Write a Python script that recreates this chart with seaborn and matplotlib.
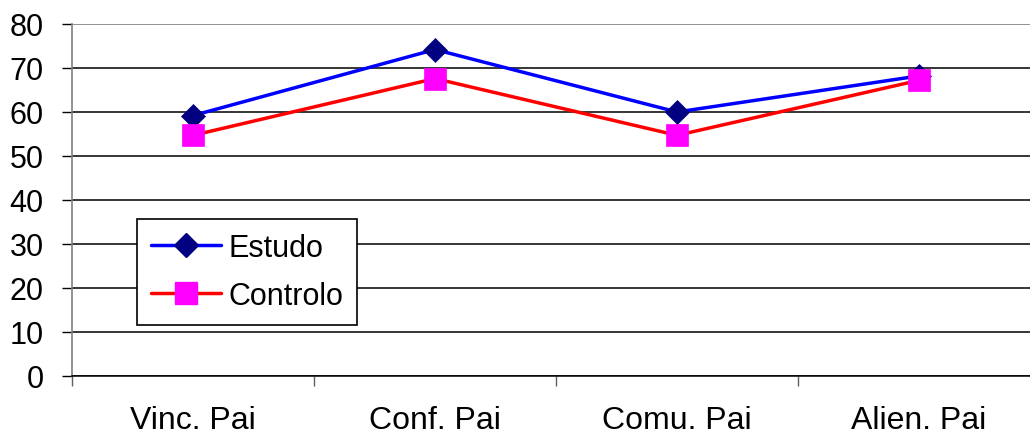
import matplotlib
matplotlib.use("Agg")
import matplotlib.pyplot as plt
from matplotlib.lines import Line2D
import seaborn as sns
import pandas as pd
import numpy as np

categories = ["Vinc. Pai", "Conf. Pai", "Comu. Pai", "Alien. Pai"]
estudo = [59.2, 74.2, 60.0, 68.2]
controlo = [54.7, 67.6, 54.7, 67.2]
yticks = [0, 10, 20, 30, 40, 50, 60, 70, 80]

sns.set_theme(style="white")
plt.rcParams["font.family"] = ["Liberation Sans", "DejaVu Sans"]
plt.rcParams["text.color"] = "black"
plt.rcParams["xtick.color"] = "black"
plt.rcParams["ytick.color"] = "black"
plt.rcParams["xtick.labelcolor"] = "black"
plt.rcParams["ytick.labelcolor"] = "black"

W, H = 1030, 439
fig = plt.figure(figsize=(W / 100, H / 100), dpi=100)
ax = fig.add_axes([72 / W, 1 - 377 / H, (1040 - 72) / W, (377 - 25) / H])

pos = np.arange(len(categories))
df = pd.DataFrame({"x": np.concatenate([pos, pos]),
                   "y": estudo + controlo,
                   "serie": ["Estudo"] * 4 + ["Controlo"] * 4})

D_MS, S_MS, LW = 12.5, 16, 2.5

sns.lineplot(data=df[df.serie == "Estudo"], x="x", y="y", ax=ax, color="#0000FF",
             lw=LW, marker="D", markersize=D_MS, markerfacecolor="#000080",
             markeredgecolor="#000080", markeredgewidth=0.5, legend=False, zorder=4)
sns.lineplot(data=df[df.serie == "Controlo"], x="x", y="y", ax=ax, color="#FF0000",
             lw=LW, marker="s", markersize=S_MS, markerfacecolor="#FF00FF",
             markeredgecolor="#FF00FF", markeredgewidth=0.5, legend=False, zorder=5)

ax.set_xlim(-0.5, 3.5)
ax.set_ylim(0, 80)
ax.set_yticks(yticks)
ax.set_yticklabels([str(v) for v in yticks], fontsize=22, color="black")
for v in yticks[:-1]:
    ax.axhline(v, color="black", lw=1.1, zorder=1)
ax.axhline(80, color="#808080", lw=1.2, zorder=1)

ax.set_xticks(np.arange(-0.5, 3.6, 1.0))
ax.set_xticklabels([])
ax.set_xticks(pos, minor=True)
ax.set_xticklabels(categories, minor=True, fontsize=23, color="black")
ax.tick_params(axis="x", which="major", direction="out", length=7.5, width=1, color="#606060", bottom=True)
ax.tick_params(axis="x", which="minor", length=0, pad=21)
ax.tick_params(axis="y", which="major", direction="out", length=7.5, width=1, color="black", left=True, pad=13)
ax.set_xlabel("")
ax.set_ylabel("")

for s in ["top", "right"]:
    ax.spines[s].set_visible(False)
ax.spines["left"].set_color("#808080")
ax.spines["left"].set_linewidth(1.2)
ax.spines["bottom"].set_color("black")
ax.spines["bottom"].set_linewidth(1.1)

handles = [
    Line2D([], [], color="#0000FF", lw=LW, marker="D", markersize=D_MS,
           markerfacecolor="#000080", markeredgecolor="#000080"),
    Line2D([], [], color="#FF0000", lw=LW, marker="s", markersize=S_MS,
           markerfacecolor="#FF00FF", markeredgecolor="#FF00FF"),
]
leg = ax.legend(handles, ["Estudo", "Controlo"], loc="upper left",
                bbox_to_anchor=(137 / W, 1 - 220 / H), bbox_transform=fig.transFigure,
                fontsize=22, frameon=True, fancybox=False, framealpha=1,
                edgecolor="black", handlelength=2.3, handletextpad=0.25,
                borderpad=0.45, labelspacing=0.6, borderaxespad=0)
leg.get_frame().set_linewidth(1.2)
leg.set_zorder(10)
for t in leg.get_texts():
    t.set_color("black")

fig.savefig("out.png", dpi=100)
